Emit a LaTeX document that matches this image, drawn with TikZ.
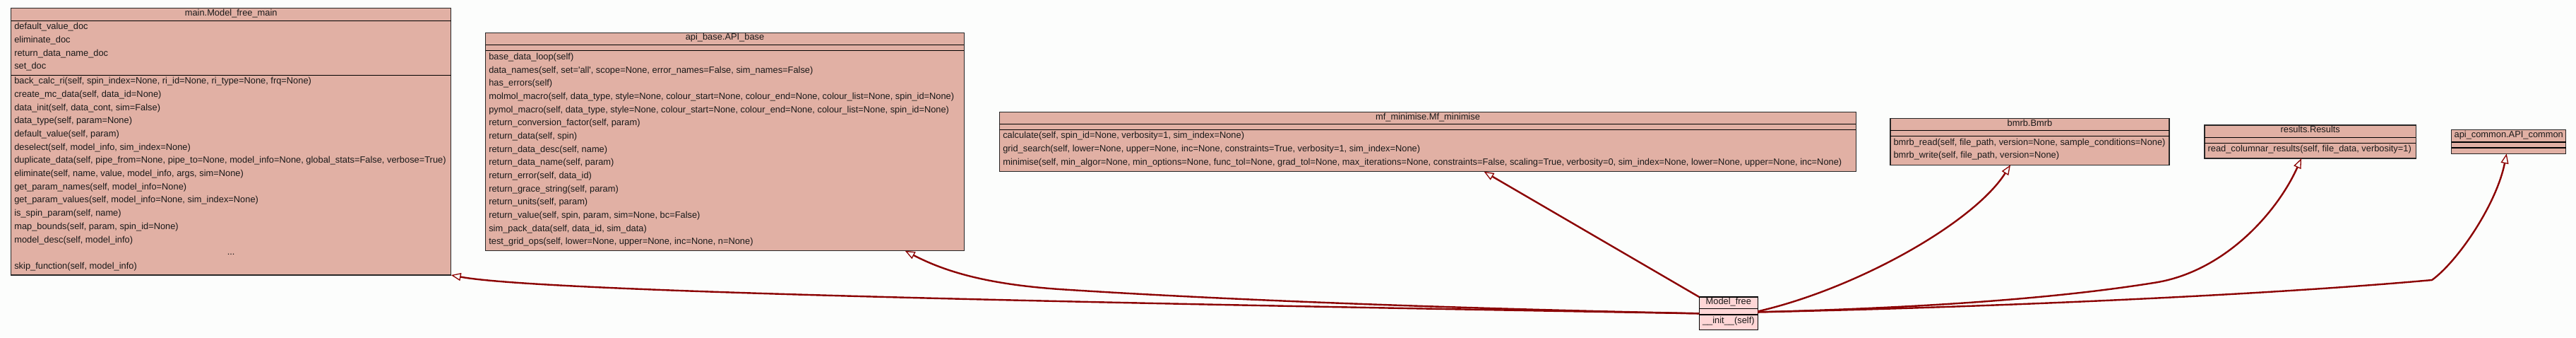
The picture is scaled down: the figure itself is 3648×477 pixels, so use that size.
\documentclass[tikz,border=0pt]{standalone}
\usepackage{fontspec}
\setmainfont{Liberation Sans}
\usetikzlibrary{arrows.meta}
\definecolor{boxfill}{RGB}{225,176,164}
\definecolor{lightfill}{RGB}{255,214,214}
\definecolor{edgecol}{RGB}{139,0,0}
\definecolor{bgcol}{RGB}{252,253,252}
\begin{document}
\begin{tikzpicture}[x=1pt,y=-1pt,
  box/.style={draw=black!85, line width=1.4pt, fill=boxfill, inner sep=0pt, outer sep=0pt, anchor=north west},
  sepline/.style={draw=black, line width=1.4pt},
  txt/.style={font=\fontsize{12.85}{15}\selectfont, inner sep=0pt, outer sep=0pt, anchor=mid west, text=black!90},
  ttl/.style={font=\fontsize{12.85}{15}\selectfont, inner sep=0pt, outer sep=0pt, anchor=mid, text=black!90},
  inh/.style={draw=edgecol, line width=2.4pt, -{Triangle[open, length=14pt, width=11pt, line width=1.3pt]}}
]
\fill[bgcol] (0,0) rectangle (3648,477);
\useasboundingbox (0,0) rectangle (3648,477);

% ---------- main.Model_free_main ----------
\node[box, minimum width=623pt, minimum height=377.3pt] (A) at (15.7,11.7) {};
\draw[sepline] (15.7,29.3) -- (638.7,29.3);
\draw[sepline] (15.7,106.7) -- (638.7,106.7);
\node[ttl] (Atitle) at (327.2,20.3) {main.Model\_free\_main};
\foreach \t [count=\i] in {{default\_value\_doc},{eliminate\_doc},{return\_data\_name\_doc},{set\_doc}}
  \node[txt] (Aa\i) at (20.3,{39+18.7*(\i-1)}) {\t};
\foreach \t [count=\i] in {
  {back\_calc\_ri(self, spin\_index=None, ri\_id=None, ri\_type=None, frq=None)},
  {create\_mc\_data(self, data\_id=None)},
  {data\_init(self, data\_cont, sim=False)},
  {data\_type(self, param=None)},
  {default\_value(self, param)},
  {deselect(self, model\_info, sim\_index=None)},
  {duplicate\_data(self, pipe\_from=None, pipe\_to=None, model\_info=None, global\_stats=False, verbose=True)},
  {eliminate(self, name, value, model\_info, args, sim=None)},
  {get\_param\_names(self, model\_info=None)},
  {get\_param\_values(self, model\_info=None, sim\_index=None)},
  {is\_spin\_param(self, name)},
  {map\_bounds(self, param, spin\_id=None)},
  {model\_desc(self, model\_info)}}
  \node[txt] (Am\i) at (20.3,{116+18.7*(\i-1)}) {\t};
\node[ttl] (Adots) at (327.2,358.2) {...};
\node[txt] (Askip) at (20.3,377.8) {skip\_function(self, model\_info)};

% ---------- api_base.API_base ----------
\node[box, minimum width=677.6pt, minimum height=308pt] (B) at (687.7,46.7) {};
\draw[sepline] (687.7,63.7) -- (1365.3,63.7);
\draw[sepline] (687.7,71.7) -- (1365.3,71.7);
\node[ttl] (Btitle) at (1026.5,54) {api\_base.API\_base};
\foreach \t [count=\i] in {
  {base\_data\_loop(self)},
  {data\_names(self, set=\textquotesingle all\textquotesingle, scope=None, error\_names=False, sim\_names=False)},
  {has\_errors(self)},
  {molmol\_macro(self, data\_type, style=None, colour\_start=None, colour\_end=None, colour\_list=None, spin\_id=None)},
  {pymol\_macro(self, data\_type, style=None, colour\_start=None, colour\_end=None, colour\_list=None, spin\_id=None)},
  {return\_conversion\_factor(self, param)},
  {return\_data(self, spin)},
  {return\_data\_desc(self, name)},
  {return\_data\_name(self, param)},
  {return\_error(self, data\_id)},
  {return\_grace\_string(self, param)},
  {return\_units(self, param)},
  {return\_value(self, spin, param, sim=None, bc=False)},
  {sim\_pack\_data(self, data\_id, sim\_data)},
  {test\_grid\_ops(self, lower=None, upper=None, inc=None, n=None)}}
  \node[txt] (Bm\i) at (692.3,{82+18.65*(\i-1)}) {\t};

% ---------- mf_minimise.Mf_minimise ----------
\node[box, minimum width=1212.6pt, minimum height=84pt] (C) at (1415.7,158.7) {};
\draw[sepline] (1415.7,175.7) -- (2628.3,175.7);
\draw[sepline] (1415.7,183.7) -- (2628.3,183.7);
\node[ttl] (Ctitle) at (2022,166.5) {mf\_minimise.Mf\_minimise};
\foreach \t [count=\i] in {
  {calculate(self, spin\_id=None, verbosity=1, sim\_index=None)},
  {grid\_search(self, lower=None, upper=None, inc=None, constraints=True, verbosity=1, sim\_index=None)},
  {minimise(self, min\_algor=None, min\_options=None, func\_tol=None, grad\_tol=None, max\_iterations=None, constraints=False, scaling=True, verbosity=0, sim\_index=None, lower=None, upper=None, inc=None)}}
  \node[txt] (Cm\i) at (1420.3,{193.3+18.7*(\i-1)}) {\t};

% ---------- bmrb.Bmrb ----------
\node[box, minimum width=394.8pt, minimum height=65.6pt] (D) at (2677,167.7) {};
\draw[sepline] (2677,184.7) -- (3071.8,184.7);
\draw[sepline] (2677,192.7) -- (3071.8,192.7);
\node[ttl] (Dtitle) at (2874.4,176.3) {bmrb.Bmrb};
\node[txt] (Dm1) at (2681.5,202.5) {bmrb\_read(self, file\_path, version=None, sample\_conditions=None)};
\node[txt] (Dm2) at (2681.5,221.3) {bmrb\_write(self, file\_path, version=None)};

% ---------- results.Results ----------
\node[box, minimum width=299.3pt, minimum height=47pt] (E) at (3122,177) {};
\draw[sepline] (3122,194.3) -- (3421.3,194.3);
\draw[sepline] (3122,202.7) -- (3421.3,202.7);
\node[ttl] (Etitle) at (3271.7,185) {results.Results};
\node[txt] (Em1) at (3126.6,211.8) {read\_columnar\_results(self, file\_data, verbosity=1)};

% ---------- api_common.API_common ----------
\node[box, minimum width=162pt, minimum height=33.6pt] (F) at (3471.7,183.7) {};
\draw[sepline] (3471.7,201) -- (3633.7,201);
\draw[sepline] (3471.7,209) -- (3633.7,209);
\node[ttl] (Ftitle) at (3552.7,192) {api\_common.API\_common};

% ---------- Model_free ----------
\node[box, fill=lightfill, draw=black, minimum width=83pt, minimum height=46.7pt] (G) at (2406.3,420) {};
\draw[sepline] (2406.3,436.7) -- (2489.3,436.7);
\draw[sepline] (2406.3,445) -- (2489.3,445);
\node[ttl] (Gtitle) at (2447.8,427.8) {Model\_free};
\node[ttl] (Ginit) at (2447.8,455.3) {\_\_init\_\_(self)};

% ---------- inheritance edges ----------
\draw[inh] (G.west) .. controls (1500,428) and (760,412) .. (A.south east);
\draw[inh] (G.west) .. controls (2000,435) and (1700,422) .. (1500,409)
                   .. controls (1400,402) and (1340,385) .. ([xshift=255.2pt]B.south);
\draw[inh] (G.north west) -- ([xshift=79.5pt]C.south);
\draw[inh] ([yshift=3pt]G.east) .. controls (2630,408) and (2795,315) .. ([xshift=-27.4pt]D.south);
\draw[inh] ([yshift=2pt]G.east) .. controls (2700,436) and (2900,424) .. (3050,400)
                   .. controls (3150,385) and (3225,300) .. ([xshift=-12.6pt]E.south);
\draw[inh] ([yshift=2pt]G.east) .. controls (2800,435) and (3200,418) .. (3444,396)
                   .. controls (3480,370) and (3535,290) .. ([xshift=-3pt]F.south);
\end{tikzpicture}
\end{document}
